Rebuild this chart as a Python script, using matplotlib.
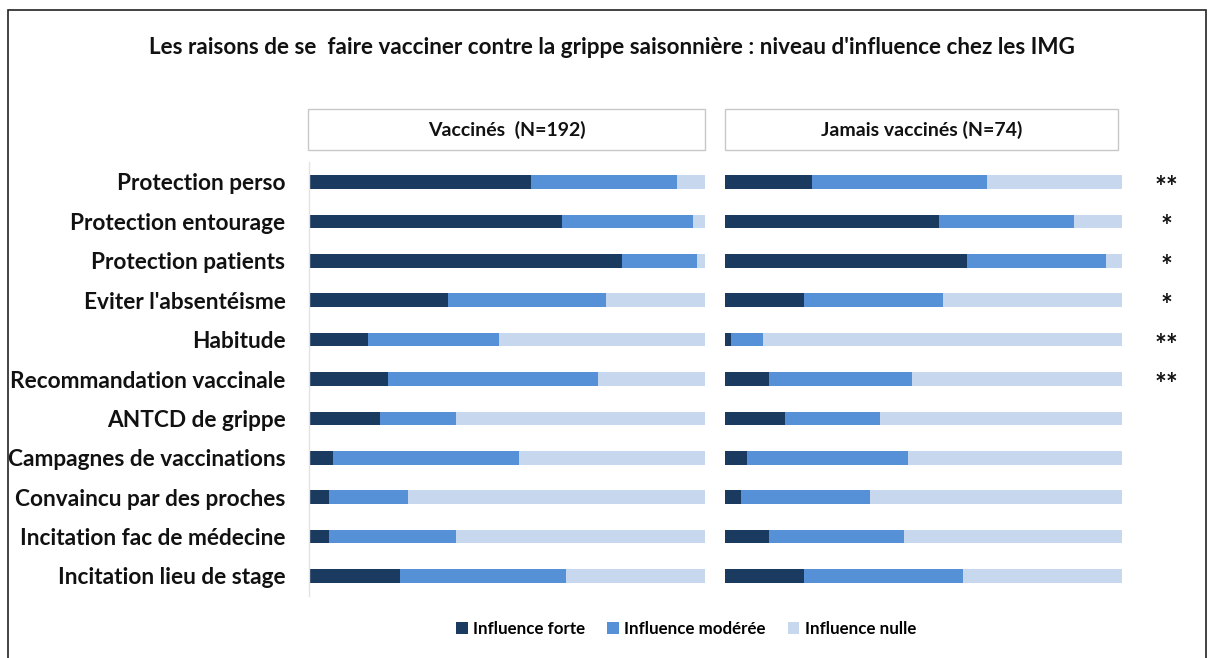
import matplotlib
matplotlib.use("Agg")
import matplotlib.pyplot as plt
from matplotlib.patches import Rectangle
import numpy as np

plt.rcParams['font.family'] = ['Lato', 'DejaVu Sans']

categories = ["Protection perso", "Protection entourage", "Protection patients",
              "Eviter l'absentéisme", "Habitude", "Recommandation vaccinale",
              "ANTCD de grippe", "Campagnes de vaccinations", "Convaincu par des proches",
              "Incitation fac de médecine", "Incitation lieu de stage"]

vacc_forte = [56, 64, 79, 35, 15, 20, 18, 6, 5, 5, 23]
vacc_moderee = [37, 33, 19, 40, 33, 53, 19, 47, 20, 32, 42]
vacc_nulle = [7, 3, 2, 25, 52, 27, 63, 47, 75, 63, 35]

jamais_forte = [22, 54, 61, 20, 1.5, 11, 15, 5.5, 4, 11, 20]
jamais_moderee = [44, 34, 35, 35, 8, 36, 24, 40.5, 32.5, 34, 40]
jamais_nulle = [34, 12, 4, 45, 90.5, 53, 61, 54, 63.5, 55, 40]

significance = ["**", "*", "*", "*", "**", "**", "", "", "", "", ""]

panel_titles = ["Vaccinés  (N=192)", "Jamais vaccinés (N=74)"]
legend_labels = ["Influence forte", "Influence modérée", "Influence nulle"]
title = "Les raisons de se  faire vacciner contre la grippe saisonnière : niveau d'influence chez les IMG"

colors = ["#1b3a60", "#5690d6", "#c6d7ee"]

W, H = 1214, 658
fig = plt.figure(figsize=(W / 100, H / 100), dpi=100)

def ax_rect(x0, x1, y0, y1):
    return [x0 / W, 1 - y1 / H, (x1 - x0) / W, (y1 - y0) / H]

# outer frame
fig.add_artist(Rectangle((8 / W, -0.01), (1206 - 8) / W, 1 - 10 / H + 0.01,
                         transform=fig.transFigure, fill=False, edgecolor="#222222", lw=1.2))

fig.text(612 / W, 1 - 47 / H, title, ha="center", va="center", fontsize=16.2,
         fontweight="bold", color="#111111")

y = np.arange(len(categories))
panels = [(309, 705, vacc_forte, vacc_moderee, vacc_nulle),
          (725, 1122, jamais_forte, jamais_moderee, jamais_nulle)]

axes = []
for i, (x0, x1, f, m, n) in enumerate(panels):
    ax = fig.add_axes(ax_rect(x0, x1, 162.3, 595.7))
    f = np.array(f); m = np.array(m); n = np.array(n)
    ax.barh(y, f, height=0.35, color=colors[0], label=legend_labels[0])
    ax.barh(y, m, left=f, height=0.35, color=colors[1], label=legend_labels[1])
    ax.barh(y, n, left=f + m, height=0.35, color=colors[2], label=legend_labels[2])
    ax.set_xlim(0, 100)
    ax.set_ylim(len(categories) - 0.5, -0.5)
    ax.set_xticks([])
    for s in ["top", "right", "bottom"]:
        ax.spines[s].set_visible(False)
    ax.spines["left"].set_color("#e3e3e3")
    ax.spines["left"].set_linewidth(1.0)
    ax.spines["left"].set_visible(i == 0)
    if i == 0:
        ax.set_yticks(y)
        ax.set_yticklabels(categories, fontsize=16.3, fontweight="bold", color="#111111")
        ax.tick_params(axis="y", length=0, pad=17)
    else:
        ax.set_yticks([])
    axes.append(ax)

# panel header boxes
for (x0, x1), t in zip([(308, 705), (725, 1118)], panel_titles):
    fig.add_artist(Rectangle((x0 / W, 1 - 150 / H), (x1 - x0) / W, 41 / H,
                             transform=fig.transFigure, fill=False,
                             edgecolor="#c8c8c8", lw=1.0))
    fig.text((x0 + x1) / 2 / W, 1 - 130 / H, t, ha="center", va="center",
             fontsize=14, fontweight="bold", color="#111111")

# significance stars
ax_r = axes[1]
for yi, s in zip(y, significance):
    if s:
        ax_r.text(1.113, yi + 0.15, s, transform=ax_r.get_yaxis_transform(), ha="center",
                  va="center", fontsize=20, fontweight="bold", color="#111111")

handles, labels = axes[0].get_legend_handles_labels()
fig.legend(handles, labels, loc="center", bbox_to_anchor=(686 / W, 1 - 629 / H), ncol=3,
           frameon=False, handlelength=0.7, handleheight=0.7,
           handletextpad=0.3, columnspacing=1.3, prop={"weight": "bold", "size": 12.2})

fig.savefig("out.png", dpi=100)
